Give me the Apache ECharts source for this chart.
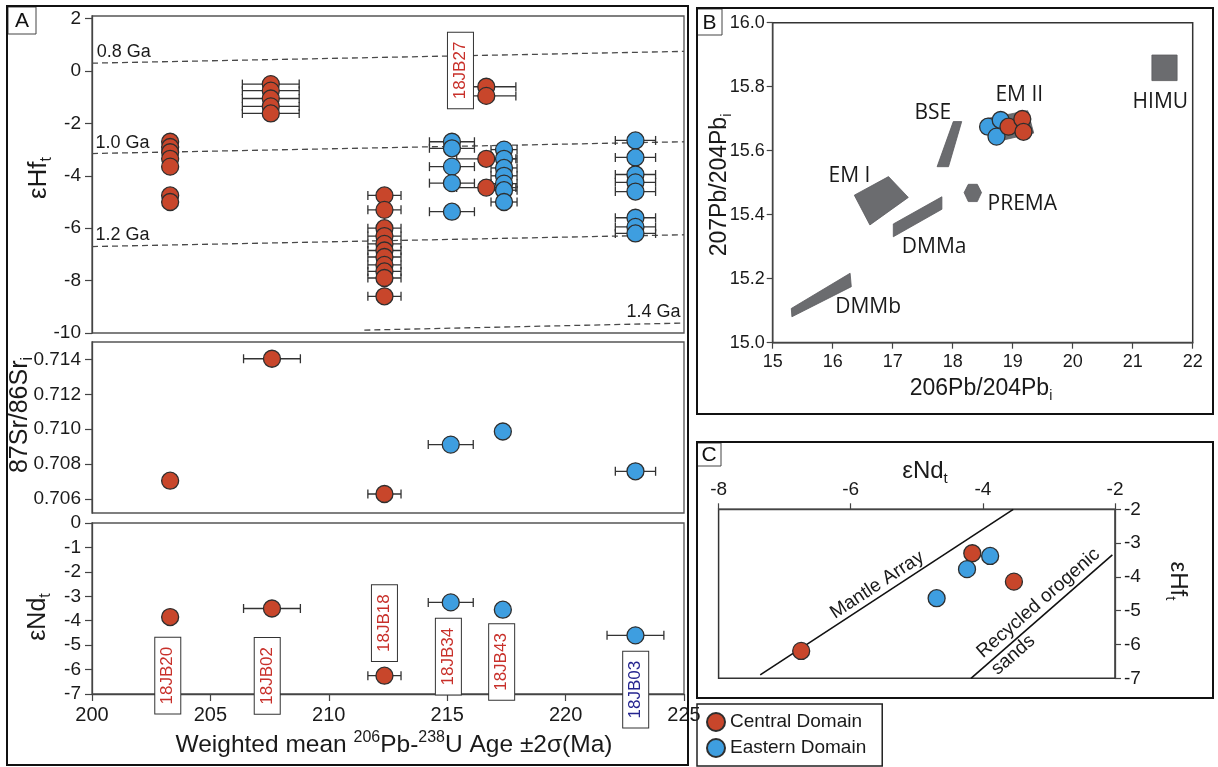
<!DOCTYPE html>
<html><head><meta charset="utf-8">
<script src="https://cdn.jsdelivr.net/npm/echarts@6.0.0/dist/echarts.min.js"></script>
<style>html,body{margin:0;padding:0;background:#fff}#c{width:1218px;height:767px}</style>
</head><body><div id="c"></div>
<script>
// ---------------- DATA ----------------
// Panel A (top) : zircon εHf(t) per sample
const sampleNames  = ['18JB20','18JB02','18JB18','18JB34','18JB27','18JB43','18JB03'];
const sampleDomain = ['C','C','C','E','C','E','E'];
const sampleAge    = [203.3, 207.55, 212.35, 215.2, 216.65, 217.4, 222.95];
const hfAgeErr     = [0, 1.2, 0.7, 0.95, 1.25, 0.55, 0.85];
const hf18JB20 = [-2.7, -2.9, -3.1, -3.35, -3.65, -4.75, -5.0];
const hf18JB02 = [-0.5, -0.75, -1.05, -1.35, -1.62];
const hf18JB18 = [-4.75, -5.3, -6.0, -6.3, -6.6, -6.85, -7.1, -7.4, -7.65, -7.9, -8.6];
const hf18JB34 = [-2.7, -2.95, -3.65, -4.28, -5.37];
const hf18JB27 = [-0.6, -0.95, -3.35, -4.45];
const hf18JB43 = [-3.0, -3.35, -3.7, -4.0, -4.3, -4.55, -5.0];
const hf18JB03 = [-2.65, -3.3, -3.95, -4.25, -4.6, -5.6, -5.95, -6.2];
// crustal model age reference lines [age, εHf]
const tdm08 = [[200, 0.3], [225, 0.75]];
const tdm10 = [[200, -3.15], [225, -2.7]];
const tdm12 = [[200, -6.7], [225, -6.25]];
const tdm14 = [[211.5, -9.89], [225, -9.62]];
const tdmNames = ['0.8 Ga', '1.0 Ga', '1.2 Ga', '1.4 Ga'];

// Panels A (middle, bottom): whole-rock Sr and Nd
const isoSamples = ['18JB20','18JB02','18JB18','18JB34','18JB43','18JB03'];
const isoDomain  = ['C','C','C','E','E','E'];
const isoAge     = [203.3, 207.6, 212.35, 215.15, 217.35, 222.95];
const srValues   = [0.70705, 0.71404, 0.70629, 0.70912, 0.70987, 0.70759];
const srAgeErr   = [0, 1.2, 0.7, 0.95, 0, 0.85];
const ndValues   = [-3.85, -3.5, -6.25, -3.25, -3.55, -4.6];
const ndAgeErr   = [0, 1.2, 0.7, 0.95, 0, 1.2];
const labelColors = ['#c8302a','#c8302a','#c8302a','#c8302a','#c8302a','#25258f'];

// Panel B: Pb isotopes
const centralPb206 = [18.93, 19.16, 19.18];
const centralPb207 = [15.675, 15.699, 15.659];
const easternPb206 = [18.59, 18.80, 18.73];
const easternPb207 = [15.675, 15.696, 15.644];
const mantleNames = ['HIMU', 'EM II', 'BSE', 'EM I', 'PREMA', 'DMMa', 'DMMb'];
const mantlePolygons = [
  [[21.32, 15.899], [21.74, 15.899], [21.74, 15.819], [21.32, 15.819]],
  [[18.55, 15.70], [19.25, 15.725], [19.35, 15.655], [18.65, 15.625]],
  [[18.01, 15.691], [18.15, 15.691], [17.93, 15.55], [17.74, 15.55]],
  [[16.36, 15.461], [16.93, 15.519], [17.26, 15.454], [16.62, 15.368]],
  [[18.19, 15.469], [18.26, 15.495], [18.41, 15.495], [18.48, 15.469], [18.41, 15.441], [18.26, 15.441]],
  [[17.01, 15.371], [17.82, 15.456], [17.82, 15.417], [17.01, 15.331]],
  [[15.31, 15.107], [16.29, 15.217], [16.31, 15.175], [15.32, 15.081]]
];
const mantleLabelAt = [[21.46, 15.753], [19.11, 15.774], [17.67, 15.717], [16.28, 15.521], [19.16, 15.433], [17.69, 15.30], [16.59, 15.11]];

// Panel C: εNd vs εHf
const centralNdC = [-4.16, -3.53, -6.75];
const centralHfC = [-3.30, -4.14, -6.19];
const easternNdC = [-3.89, -4.24, -4.70];
const easternHfC = [-3.38, -3.77, -4.63];
const mantleArray = [[-7.37, -6.9], [-3.54, -2.0]];
const recycledSands = [[-4.18, -7.0], [-2.04, -3.35]];

// ---------------- BUILD ----------------
const RED = '#C8462B', BLUE = '#3E9EE0', EDGE = '#2e2e2e';
const FONT = '"Liberation Sans", Arial, sans-serif';
const FONT2 = '"Open Sans", "Noto Sans", sans-serif';
const hfBySample = [hf18JB20, hf18JB02, hf18JB18, hf18JB34, hf18JB27, hf18JB43, hf18JB03];

function hfPoints(code) {
  const out = [];
  sampleNames.forEach((s, i) => { if (sampleDomain[i] === code) hfBySample[i].forEach(v => out.push([sampleAge[i], v])); });
  return out;
}
function hfErrPoints() {
  const out = [];
  sampleNames.forEach((s, i) => hfBySample[i].forEach(v => out.push([sampleAge[i], v, hfAgeErr[i]])));
  return out;
}
function isoPoints(vals, code) {
  const out = [];
  isoSamples.forEach((s, i) => { if (isoDomain[i] === code) out.push([isoAge[i], vals[i]]); });
  return out;
}
function isoErr(vals, errs) { return isoSamples.map((s, i) => [isoAge[i], vals[i], errs[i]]); }
function zip(a, b) { return a.map((v, i) => [v, b[i]]); }

function errSeries(idx, data) {
  return {
    type: 'custom', xAxisIndex: idx, yAxisIndex: idx, z: 3, silent: true, data, encode: { x: 0, y: 1 },
    renderItem: (params, api) => {
      const x = api.value(0), y = api.value(1), e = api.value(2);
      if (!e) return { type: 'group', children: [] };
      const a = api.coord([x - e, y]), b = api.coord([x + e, y]), h = 4.5;
      const st = () => ({ stroke: '#333', lineWidth: 1.3 });
      return { type: 'group', children: [
        { type: 'line', shape: { x1: a[0], y1: a[1], x2: b[0], y2: b[1] }, style: st() },
        { type: 'line', shape: { x1: a[0], y1: a[1] - h, x2: a[0], y2: a[1] + h }, style: st() },
        { type: 'line', shape: { x1: b[0], y1: b[1] - h, x2: b[0], y2: b[1] + h }, style: st() }
      ]};
    }
  };
}
function scatter(idx, name, color, data, z) {
  return {
    type: 'scatter', name, xAxisIndex: idx, yAxisIndex: idx, data, symbolSize: 17, z: z || 4,
    itemStyle: { color, borderColor: EDGE, borderWidth: 1.3, opacity: 1 },
    emphasis: { disabled: true }, silent: true
  };
}
// text annotations anchored in data space
function textSeries(idx, points, texts, styler) {
  return {
    type: 'custom', xAxisIndex: idx, yAxisIndex: idx, z: 6, silent: true, clip: false,
    data: points, encode: { x: 0, y: 1 },
    renderItem: (params, api) => {
      const p = api.coord([api.value(0), api.value(1)]);
      const s = styler(params.dataIndex, api);
      return { type: 'text', x: p[0], y: p[1], rotation: s.rotation || 0,
        style: Object.assign({ text: texts[params.dataIndex] }, s.style) };
    }
  };
}
function dashLine(data) {
  return { type: 'line', xAxisIndex: 0, yAxisIndex: 0, data, symbol: 'none', silent: true, z: 2,
    lineStyle: { color: '#4a4a4a', width: 1.3, type: [6, 4] } };
}
function solidLine(data) {
  return { type: 'line', xAxisIndex: 4, yAxisIndex: 4, data, symbol: 'none', silent: true, z: 2,
    lineStyle: { color: '#111', width: 1.6 } };
}
const boxLabelStyle = (color) => ({
  fill: color, font: '17px ' + FONT, align: 'center', verticalAlign: 'middle',
  textAlign: 'center', textVerticalAlign: 'middle',
  backgroundColor: '#fff', borderColor: '#333', borderWidth: 1, padding: [4, 9, 4, 9]
});

function ax(extra) {
  const base = {
    type: 'value',
    axisLine: { show: true, onZero: false, lineStyle: { color: '#444', width: 1.3 } },
    axisTick: { show: true, inside: false, length: 7, lineStyle: { color: '#444', width: 1.2 } },
    axisLabel: { color: '#1a1a1a', fontFamily: FONT, fontSize: 19, margin: 11 },
    splitLine: { show: false }
  };
  const out = Object.assign({}, base, extra);
  if (extra.axisLabel) out.axisLabel = Object.assign({}, base.axisLabel, extra.axisLabel);
  if (extra.axisTick) out.axisTick = Object.assign({}, base.axisTick, extra.axisTick);
  return out;
}

const hfTicks = [-10, -8, -6, -4, -2, 0, 2];
const srTicks = [0.706, 0.708, 0.710, 0.712, 0.714];

const series = [
  dashLine(tdm08), dashLine(tdm10), dashLine(tdm12), dashLine(tdm14),
  textSeries(0, [[200.2, 0.72], [200.15, -2.75], [200.15, -6.25]], tdmNames.slice(0, 3), () => ({
    style: { fill: '#1a1a1a', font: '18px ' + FONT, align: 'left', verticalAlign: 'middle', textAlign: 'left', textVerticalAlign: 'middle' } })),
  textSeries(0, [[224.85, -9.2]], [tdmNames[3]], () => ({
    style: { fill: '#1a1a1a', font: '18px ' + FONT, align: 'right', verticalAlign: 'middle', textAlign: 'right', textVerticalAlign: 'middle' } })),
  errSeries(0, hfErrPoints()),
  scatter(0, 'Central Domain', RED, hfPoints('C')),
  scatter(0, 'Eastern Domain', BLUE, hfPoints('E')),
  textSeries(0, [[215.56, 0.02]], ['18JB27'], () => ({ rotation: Math.PI / 2, style: boxLabelStyle('#c8302a') })),

  errSeries(1, isoErr(srValues, srAgeErr)),
  scatter(1, 'Central Domain', RED, isoPoints(srValues, 'C')),
  scatter(1, 'Eastern Domain', BLUE, isoPoints(srValues, 'E')),

  errSeries(2, isoErr(ndValues, ndAgeErr)),
  scatter(2, 'Central Domain', RED, isoPoints(ndValues, 'C')),
  scatter(2, 'Eastern Domain', BLUE, isoPoints(ndValues, 'E')),
  textSeries(2, [[203.2, -6.25], [207.4, -6.26], [212.35, -4.1], [215.05, -5.47], [217.3, -5.69], [222.96, -6.82]],
    isoSamples, (i) => ({ rotation: Math.PI / 2, style: boxLabelStyle(labelColors[i]) })),

  {
    type: 'custom', xAxisIndex: 3, yAxisIndex: 3, z: 2, silent: true,
    data: mantlePolygons.map(p => p[0]), encode: { x: 0, y: 1 },
    renderItem: (params, api) => ({
      type: 'polygon',
      shape: { points: mantlePolygons[params.dataIndex].map(v => api.coord(v)) },
      style: { fill: '#6b6c6f', stroke: '#5a5b5e', lineWidth: 0.8 }
    })
  },
  textSeries(3, mantleLabelAt, mantleNames, () => ({
    style: { fill: '#1a1a1a', font: '21px ' + FONT2, align: 'center', verticalAlign: 'middle', textAlign: 'center', textVerticalAlign: 'middle' } })),
  scatter(3, 'Eastern Domain', BLUE, zip(easternPb206, easternPb207)),
  scatter(3, 'Central Domain', RED, zip(centralPb206, centralPb207), 5),

  solidLine(mantleArray), solidLine(recycledSands),
  textSeries(4, [[-5.6, -4.24], [-3.16, -4.78], [-3.54, -6.31]], ['Mantle Array', 'Recycled orogenic', 'sands'], (i, api) => {
    const ln = i === 0 ? mantleArray : recycledSands;
    const a = api.coord(ln[0]), b = api.coord(ln[1]);
    return { rotation: Math.atan2(a[1] - b[1], b[0] - a[0]),
      style: { fill: '#1a1a1a', font: '19px ' + FONT, align: 'center', verticalAlign: 'middle', textAlign: 'center', textVerticalAlign: 'middle' } };
  }),
  scatter(4, 'Central Domain', RED, zip(centralNdC, centralHfC)),
  scatter(4, 'Eastern Domain', BLUE, zip(easternNdC, easternHfC))
];

const rich = (size) => ({
  a: { fontSize: size, fontFamily: FONT, fill: '#1a1a1a', color: '#1a1a1a', lineHeight: size + 6, verticalAlign: 'middle' },
  s: { fontSize: Math.round(size * 0.62), fontFamily: FONT, fill: '#1a1a1a', color: '#1a1a1a', lineHeight: size + 6, verticalAlign: 'bottom' },
  u: { fontSize: Math.round(size * 0.66), fontFamily: FONT, fill: '#1a1a1a', color: '#1a1a1a', lineHeight: size + 6, verticalAlign: 'top' }
});
function title(x, y, text, size, rot) {
  return { type: 'text', x, y, rotation: rot || 0, z: 10,
    style: { text, rich: rich(size), align: 'center', verticalAlign: 'middle', textAlign: 'center', textVerticalAlign: 'middle', fill: '#1a1a1a' } };
}
function frame(x, y, w, h, lw, color) {
  return { type: 'rect', z: 10, shape: { x, y, width: w, height: h }, style: { fill: null, stroke: color || '#111', lineWidth: lw || 2 } };
}
function letter(x, y, w, h, t) {
  return { type: 'group', z: 11, children: [
    { type: 'rect', shape: { x, y, width: w, height: h }, style: { fill: '#fff', stroke: '#444', lineWidth: 1 } },
    { type: 'text', x: x + w / 2, y: y + h / 2 + 1, style: { text: t, font: '21px ' + FONT, fill: '#111', align: 'center', verticalAlign: 'middle', textAlign: 'center', textVerticalAlign: 'middle' } }
  ]};
}

const option = {
  animation: false,
  backgroundColor: '#fff',
  legend: {
    data: ['Central Domain', 'Eastern Domain'], orient: 'vertical', left: 697, top: 704,
    itemWidth: 18, itemHeight: 18, itemGap: 6, icon: 'circle', selectedMode: false,
    padding: [8, 16, 8, 9], borderColor: '#222', borderWidth: 1.5,
    textStyle: { fontFamily: FONT, fontSize: 19, color: '#1a1a1a' }
  },
  grid: [
    { left: 92, top: 16, width: 592, height: 317, show: true, borderColor: '#555', borderWidth: 1.3 },
    { left: 92, top: 342, width: 592, height: 171, show: true, borderColor: '#555', borderWidth: 1.3 },
    { left: 92, top: 523, width: 592, height: 171, show: true, borderColor: '#555', borderWidth: 1.3 },
    { left: 772.7, top: 22.7, width: 420, height: 320, show: true, borderColor: '#333', borderWidth: 1.5 },
    { left: 718.6, top: 509.3, width: 396.4, height: 169, show: true, borderColor: '#333', borderWidth: 1.5 }
  ],
  xAxis: [
    ax({ gridIndex: 0, min: 200, max: 225, show: false }),
    ax({ gridIndex: 1, min: 200, max: 225, show: false }),
    ax({ gridIndex: 2, min: 200, max: 225, interval: 5, axisLabel: { fontSize: 20, margin: 11 } }),
    ax({ gridIndex: 3, min: 15, max: 22, interval: 1, axisLabel: { fontSize: 18, margin: 10 }, axisTick: { length: 6 } }),
    ax({ gridIndex: 4, min: -8, max: -2, interval: 2, position: 'top', axisLabel: { fontSize: 19, margin: 10 }, axisTick: { length: 6 } })
  ],
  yAxis: [
    ax({ gridIndex: 0, min: -10, max: 2.1, axisLabel: { customValues: hfTicks }, axisTick: { customValues: hfTicks } }),
    ax({ gridIndex: 1, min: 0.7052, max: 0.7150, axisLabel: { customValues: srTicks, formatter: v => v.toFixed(3) }, axisTick: { customValues: srTicks } }),
    ax({ gridIndex: 2, min: -7, max: 0, interval: 1 }),
    ax({ gridIndex: 3, min: 15, max: 16, interval: 0.2, axisLabel: { fontSize: 18, margin: 8, formatter: v => v.toFixed(1) }, axisTick: { length: 6 } }),
    ax({ gridIndex: 4, min: -7, max: -2, interval: 1, position: 'right', axisLabel: { fontSize: 19, margin: 9 }, axisTick: { length: 6 } })
  ],
  series,
  graphic: { elements: [
    frame(7, 6, 681, 759, 2),
    frame(697, 8, 516, 406, 2),
    frame(697, 442, 516, 256, 2),
    letter(8, 7, 28, 27, 'A'),
    letter(697, 9, 25, 26, 'B'),
    letter(697, 443, 24, 23, 'C'),
    title(39, 178, '{a|εHf}{s|t}', 26, Math.PI / 2),
    title(20, 415, '{a|87Sr/86Sr}{s|i}', 25, Math.PI / 2),
    title(38, 617, '{a|εNd}{s|t}', 25, Math.PI / 2),
    title(394, 745, '{a|Weighted mean }{u|206}{a|Pb-}{u|238}{a|U Age ±2σ(Ma)}', 24.5, 0),
    title(720, 185, '{a|207Pb/204Pb}{s|i}', 23, Math.PI / 2),
    title(981, 389, '{a|206Pb/204Pb}{s|i}', 23, 0),
    title(925, 471, '{a|εNd}{s|t}', 24, 0),
    title(1178, 581, '{a|εHf}{s|t}', 24, -Math.PI / 2)
  ]}
};
const chart = echarts.init(document.getElementById('c'), null, { width: 1218, height: 767 });
chart.setOption(option);
</script>
</body></html>
